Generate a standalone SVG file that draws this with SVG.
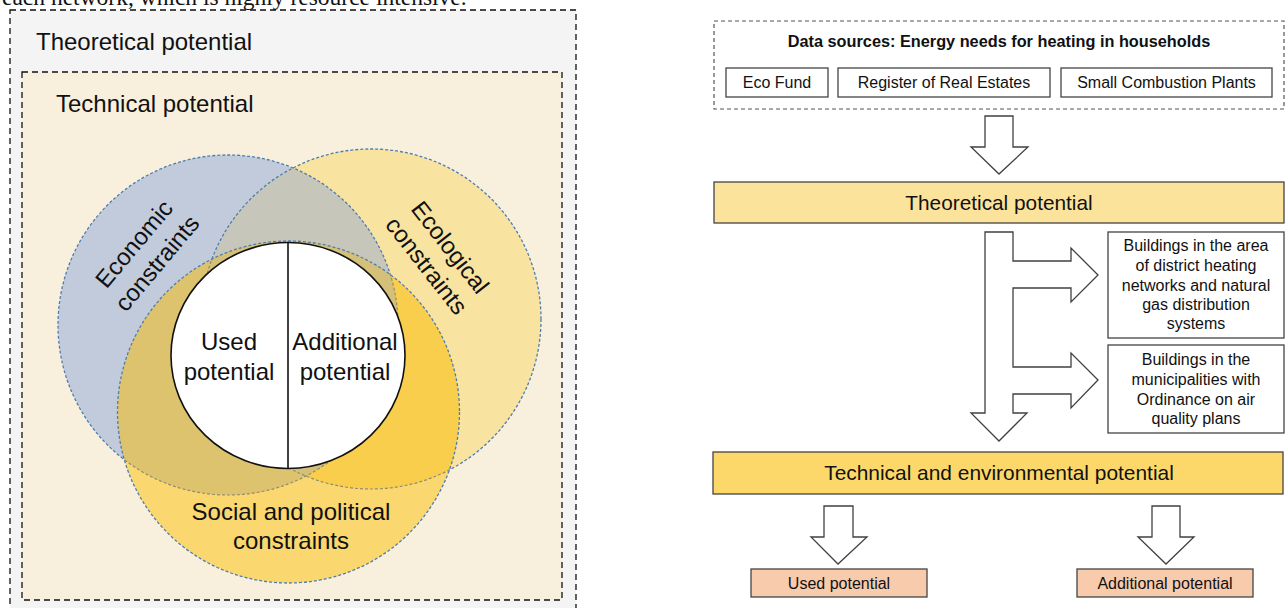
<svg xmlns="http://www.w3.org/2000/svg" width="1287" height="608" viewBox="0 0 1287 608">
  <style>
    .sans { font-family: "Liberation Sans", Arial, sans-serif; fill: #111; }
    .serif { font-family: "Liberation Serif", "Times New Roman", serif; fill: #111; }
    .venn-label { font-size: 24px; text-anchor: middle; }
    .box { fill: #ffffff; stroke: #444; stroke-width: 1.3; }
    .bar { stroke: #444; stroke-width: 1.3; }
    .small { font-size: 16px; text-anchor: middle; }
    .block-arrow { fill: #ffffff; stroke: #404040; stroke-width: 1.3; stroke-linejoin: miter; }
    .ring { fill: none; stroke: #4f7db0; stroke-width: 1.3; stroke-dasharray: 3 2; }
    .ring-inner { fill: none; stroke: #938c70; stroke-width: 1.2; stroke-dasharray: 3 2; }
  </style>
  <defs>
    <clipPath id="clip-econ"><circle cx="228" cy="325" r="170"/></clipPath>
    <clipPath id="clip-eco"><circle cx="371" cy="319" r="170"/></clipPath>
    <clipPath id="clip-social"><circle cx="288.5" cy="412" r="171"/></clipPath>
    <mask id="mask-outside-social">
      <rect x="0" y="0" width="1287" height="608" fill="#fff"/>
      <circle cx="288.5" cy="412" r="171" fill="#000"/>
    </mask>
  </defs>

  <rect x="0" y="0" width="1287" height="608" fill="#ffffff"/>

  <!-- running text of the page above the figure -->
  <text class="serif" x="2" y="5" font-size="23.5">each network, which is highly resource intensive.</text>

  <!-- left figure: nested potentials with constraint circles -->
  <g id="theoretical-frame">
    <rect x="10" y="10" width="566" height="606" fill="#f4f4f4" stroke="#111" stroke-width="1.3" stroke-dasharray="6 4"/>
    <text class="sans" x="36" y="50" font-size="24">Theoretical potential</text>
  </g>
  <g id="technical-frame">
    <rect x="22" y="72" width="540" height="528" fill="#f8f0dd" stroke="#111" stroke-width="1.3" stroke-dasharray="6 4"/>
    <text class="sans" x="56" y="112" font-size="24">Technical potential</text>
  </g>

  <g id="constraint-circles">
    <!-- single-circle areas -->
    <circle cx="228" cy="325" r="170" fill="#c2cbdc"/>
    <circle cx="371" cy="319" r="170" fill="#f9e3a1"/>
    <circle cx="288.5" cy="412" r="171" fill="#fad76f"/>
    <!-- pairwise overlaps -->
    <g clip-path="url(#clip-econ)"><circle cx="371" cy="319" r="170" fill="#c6c6bb"/></g>
    <g clip-path="url(#clip-econ)"><circle cx="288.5" cy="412" r="171" fill="#ddc36e"/></g>
    <g clip-path="url(#clip-eco)"><circle cx="288.5" cy="412" r="171" fill="#f9ce4c"/></g>
    <!-- overlap of all three -->
    <g clip-path="url(#clip-econ)"><g clip-path="url(#clip-eco)"><circle cx="288.5" cy="412" r="171" fill="#d5c07a"/></g></g>
    <!-- dashed outlines -->
    <g mask="url(#mask-outside-social)">
      <circle class="ring" cx="228" cy="325" r="170"/>
      <circle class="ring" cx="371" cy="319" r="170"/>
    </g>
    <g clip-path="url(#clip-social)">
      <circle class="ring-inner" cx="228" cy="325" r="170"/>
      <circle class="ring-inner" cx="371" cy="319" r="170"/>
    </g>
    <circle class="ring" cx="288.5" cy="412" r="171"/>
  </g>

  <g id="economic-label" transform="translate(145 253) rotate(-50)">
    <text class="sans venn-label" x="0" y="-6">Economic</text>
    <text class="sans venn-label" x="0" y="24">constraints</text>
  </g>
  <g id="ecological-label" transform="translate(439 256) rotate(52)">
    <text class="sans venn-label" x="0" y="-6">Ecological</text>
    <text class="sans venn-label" x="0" y="24">constraints</text>
  </g>
  <g id="social-label">
    <text class="sans venn-label" x="291" y="520">Social and political</text>
    <text class="sans venn-label" x="291" y="549">constraints</text>
  </g>

  <g id="potential-core">
    <ellipse cx="288" cy="355.5" rx="117" ry="113" fill="#ffffff" stroke="#111" stroke-width="1.6"/>
    <line x1="288" y1="242.5" x2="288" y2="468.5" stroke="#111" stroke-width="1.6"/>
    <text class="sans venn-label" x="229" y="350">Used</text>
    <text class="sans venn-label" x="229" y="380">potential</text>
    <text class="sans venn-label" x="345" y="350">Additional</text>
    <text class="sans venn-label" x="345" y="380">potential</text>
  </g>

  <!-- right figure: assessment workflow -->
  <g id="data-sources">
    <rect x="714" y="21" width="570" height="88" fill="#ffffff" stroke="#555" stroke-width="1.2" stroke-dasharray="4 3"/>
    <text class="sans" x="999" y="47" font-size="16.3" font-weight="bold" text-anchor="middle">Data sources: Energy needs for heating in households</text>
  </g>
  <g id="eco-fund">
    <rect class="box" x="726" y="68" width="102" height="29"/>
    <text class="sans small" x="777" y="88">Eco Fund</text>
  </g>
  <g id="register-real-estates">
    <rect class="box" x="838" y="68" width="212" height="29"/>
    <text class="sans small" x="944" y="88">Register of Real Estates</text>
  </g>
  <g id="small-combustion-plants">
    <rect class="box" x="1061" y="68" width="211" height="29"/>
    <text class="sans small" x="1166.5" y="88">Small Combustion Plants</text>
  </g>

  <g id="theoretical-potential">
    <rect class="bar" x="714" y="182" width="570" height="41" fill="#fce39c"/>
    <text class="sans" x="999" y="210" font-size="20.8" text-anchor="middle">Theoretical potential</text>
  </g>

  <g id="district-heating-areas">
    <rect class="box" x="1108" y="232" width="176" height="106"/>
    <text class="sans small" x="1196" y="251">Buildings in the area</text>
    <text class="sans small" x="1196" y="271">of district heating</text>
    <text class="sans small" x="1196" y="291">networks and natural</text>
    <text class="sans small" x="1196" y="310">gas distribution</text>
    <text class="sans small" x="1196" y="329">systems</text>
  </g>
  <g id="air-quality-municipalities">
    <rect class="box" x="1108" y="345" width="176" height="88"/>
    <text class="sans small" x="1196" y="365">Buildings in the</text>
    <text class="sans small" x="1196" y="385">municipalities with</text>
    <text class="sans small" x="1196" y="405">Ordinance on air</text>
    <text class="sans small" x="1196" y="424">quality plans</text>
  </g>

  <g id="technical-environmental-potential">
    <rect class="bar" x="713" y="452" width="570" height="42" fill="#fcd86a"/>
    <text class="sans" x="999" y="480" font-size="20.9" text-anchor="middle">Technical and environmental potential</text>
  </g>

  <g id="used-potential">
    <rect class="bar" x="751" y="569" width="176" height="28" fill="#f8cbad"/>
    <text class="sans small" x="839" y="589">Used potential</text>
  </g>
  <g id="additional-potential">
    <rect class="bar" x="1077" y="569" width="176" height="28" fill="#f8cbad"/>
    <text class="sans small" x="1165" y="589">Additional potential</text>
  </g>

  <g id="connectors">
    <polygon class="block-arrow" points="985,116 1013,116 1013,147 1028,147 999,174 971,147 985,147"/>
    <polygon class="block-arrow" points="985,232 1013,232 1013,261 1071,261 1071,248 1098,275 1071,302 1071,288 1013,288 1013,367 1071,367 1071,353 1098,380 1071,408 1071,394 1013,394 1013,413 1027,413 999,441 971,413 985,413"/>
    <polygon class="block-arrow" points="824,506 853,506 853,537 867,537 838,564 811,537 824,537"/>
    <polygon class="block-arrow" points="1152,506 1180,506 1180,537 1194,537 1166,564 1138,537 1152,537"/>
  </g>
</svg>
